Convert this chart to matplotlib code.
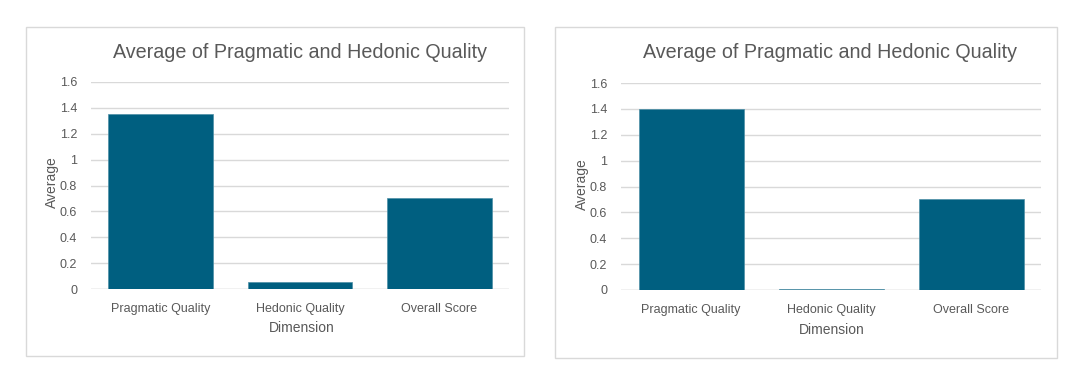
import matplotlib
matplotlib.use('Agg')
import matplotlib.pyplot as plt
from matplotlib.patches import Rectangle

plt.rcParams['font.family'] = ['Liberation Sans', 'DejaVu Sans']

# data
dimensions = ['Pragmatic Quality', 'Hedonic Quality', 'Overall Score']
left_values = [1.35, 0.055, 0.70]
right_values = [1.40, 0.01, 0.70]
y_ticks = [0, 0.2, 0.4, 0.6, 0.8, 1, 1.2, 1.4, 1.6]
y_tick_labels = ['0', '0.2', '0.4', '0.6', '0.8', '1', '1.2', '1.4', '1.6']

title = 'Average of Pragmatic and Hedonic Quality'
bar_color = '#005f80'
text_color = '#595959'
grid_color = '#d9d9d9'

W, H = 1072, 384
fig = plt.figure(figsize=(W / 100, H / 100), dpi=100)


def px(x, y):
    # pixel coords (top-left origin) -> figure fraction
    return x / W, 1 - y / H


def draw_panel(values, box, plot_box, title_xy, ylabel_xy, xlabel_xy):
    # outer chart border
    bx0, by0, bx1, by1 = box
    fx0, fy1 = px(bx0, by0)
    fx1, fy0 = px(bx1, by1)
    fig.patches.append(Rectangle((fx0, fy0), fx1 - fx0, fy1 - fy0,
                                 transform=fig.transFigure, fill=False,
                                 edgecolor=grid_color, linewidth=1))

    x0, y0, x1, y1 = plot_box
    ax = fig.add_axes([x0 / W, 1 - y1 / H, (x1 - x0) / W, (y1 - y0) / H])
    ax.bar(range(len(values)), values, width=0.75, color=bar_color,
           edgecolor='#4d8fa6', linewidth=0.5, zorder=3)
    ax.set_xlim(-0.5, len(values) - 0.5)
    ax.set_ylim(0, 1.6)
    ax.set_yticks(y_ticks)
    ax.set_yticklabels(y_tick_labels)
    ax.set_xticks(range(len(values)))
    ax.set_xticklabels(dimensions)
    ax.grid(axis='y', color=grid_color, linewidth=1, zorder=0)
    ax.axhline(0, color=grid_color, linewidth=1, zorder=1)
    for s in ax.spines.values():
        s.set_visible(False)
    ax.tick_params(length=0, colors=text_color, labelsize=9)
    ax.tick_params(axis='y', pad=10)
    ax.tick_params(axis='x', pad=10)

    tx, ty = px(*title_xy)
    fig.text(tx, ty, title, ha='center', va='center', fontsize=14.2,
             color=text_color)
    lx, ly = px(*ylabel_xy)
    fig.text(lx, ly, 'Average', ha='center', va='center', rotation=90,
             fontsize=10, color=text_color)
    dx, dy = px(*xlabel_xy)
    fig.text(dx, dy, 'Dimension', ha='center', va='center', fontsize=10,
             color=text_color)
    return ax


draw_panel(left_values, (26, 27, 524, 356), (91, 82, 509, 289),
           (300, 52), (52, 182), (302, 328))
draw_panel(right_values, (555, 27, 1057, 358), (621, 83, 1041, 290),
           (830, 52), (582, 184), (832, 330))

fig.savefig('out.png', dpi=100, facecolor='white')
